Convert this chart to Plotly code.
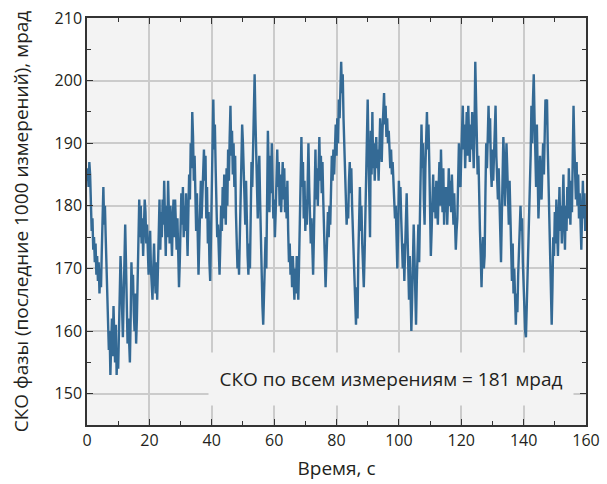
import numpy as np
import plotly.graph_objects as go

# Phase RMS over a sliding window of the last 1000 measurements, mrad
SAMPLE_STEP = 0.25  # seconds between samples
rms_mrad = [
    # 0-5 s
    184, 186, 183, 187, 185, 181, 176, 178, 173, 175, 171, 174, 169, 172, 168, 171, 166, 170, 167, 173,
    # 5-10 s
    179, 183, 177, 180, 175, 171, 166, 162, 157, 160, 153, 158, 162, 156, 164, 159, 155, 161, 153, 157,
    # 10-15 s
    154, 160, 166, 172, 168, 163, 159, 165, 170, 177, 171, 164, 158, 162, 157, 155, 162, 171, 166, 169,
    # 15-20 s
    163, 160, 166, 158, 162, 170, 177, 181, 175, 180, 174, 178, 172, 176, 181, 179, 174, 177, 171, 169,
    # 20-25 s
    173, 176, 170, 167, 165, 170, 174, 169, 166, 171, 165, 170, 176, 181, 173, 179, 175, 181, 177, 184,
    # 25-30 s
    178, 172, 180, 175, 184, 179, 174, 180, 176, 172, 178, 181, 175, 181, 177, 173, 178, 172, 167, 171,
    # 30-35 s
    176, 182, 177, 183, 175, 180, 176, 182, 177, 172, 179, 185, 181, 190, 186, 195, 191, 184, 188, 180,
    # 35-40 s
    176, 182, 171, 169, 174, 180, 184, 178, 182, 186, 189, 184, 188, 178, 183, 174, 179, 171, 168, 175,
    # 40-45 s
    184, 190, 197, 189, 193, 186, 180, 175, 177, 171, 169, 174, 180, 176, 183, 178, 185, 181, 177, 186,
    # 45-50 s
    180, 189, 184, 191, 196, 188, 192, 185, 190, 183, 188, 179, 174, 170, 173, 169, 175, 182, 188, 193,
    # 50-55 s
    190, 186, 181, 177, 184, 176, 172, 169, 174, 170, 178, 187, 183, 191, 197, 201, 194, 188, 182, 178,
    # 55-60 s
    185, 188, 181, 174, 169, 164, 161, 166, 172, 175, 170, 184, 192, 186, 179, 188, 182, 190, 185, 178,
    # 60-65 s
    181, 175, 179, 184, 189, 183, 187, 180, 185, 179, 184, 187, 181, 186, 179, 183, 178, 184, 176, 171,
    # 65-70 s
    174, 169, 172, 167, 172, 168, 165, 170, 166, 172, 168, 165, 171, 180, 186, 191, 183, 187, 178, 184,
    # 70-75 s
    176, 181, 177, 185, 190, 183, 178, 174, 178, 173, 169, 175, 183, 189, 181, 186, 180, 187, 191, 184,
    # 75-80 s
    188, 182, 187, 181, 176, 172, 167, 171, 174, 179, 175, 180, 177, 183, 188, 184, 189, 185, 188, 193,
    # 80-85 s
    188, 194, 190, 197, 194, 199, 203, 198, 201, 194, 190, 185, 181, 177, 180, 178, 184, 187, 182, 186,
    # 85-90 s
    180, 176, 173, 168, 165, 161, 167, 162, 172, 178, 183, 176, 180, 174, 169, 167, 172, 178, 184, 190,
    # 90-95 s
    197, 189, 181, 175, 192, 185, 195, 186, 190, 184, 188, 191, 186, 189, 184, 188, 194, 190, 187, 192,
    # 95-100 s
    195, 198, 193, 196, 191, 194, 190, 192, 189, 186, 189, 185, 187, 183, 181, 178, 180, 174, 170, 176,
    # 100-105 s
    184, 180, 183, 178, 175, 170, 174, 168, 173, 179, 182, 176, 170, 165, 172, 166, 160, 165, 171, 177,
    # 105-110 s
    172, 166, 161, 168, 174, 177, 171, 180, 187, 193, 186, 190, 181, 177, 186, 192, 195, 189, 193, 187,
    # 110-115 s
    180, 172, 176, 182, 185, 179, 183, 178, 184, 181, 177, 183, 187, 180, 189, 183, 179, 186, 177, 183,
    # 115-120 s
    179, 183, 177, 181, 186, 180, 184, 179, 185, 181, 177, 182, 178, 173, 176, 178, 184, 190, 185, 183,
    # 120-125 s
    188, 192, 196, 189, 193, 186, 190, 195, 188, 196, 191, 187, 193, 189, 195, 188, 186, 192, 203, 197,
    # 125-130 s
    191, 185, 188, 180, 176, 172, 167, 172, 175, 170, 172, 182, 190, 186, 192, 196, 190, 194, 186, 183,
    # 130-135 s
    189, 184, 188, 194, 196, 188, 185, 181, 186, 179, 174, 171, 178, 184, 191, 187, 180, 185, 190, 186,
    # 135-140 s
    181, 177, 184, 179, 172, 168, 174, 166, 170, 164, 161, 166, 163, 169, 172, 175, 180, 176, 178, 171,
    # 140-145 s
    166, 163, 160, 159, 164, 169, 172, 177, 180, 188, 196, 190, 197, 201, 194, 189, 183, 193, 186, 178,
    # 145-150 s
    182, 188, 184, 181, 186, 190, 185, 192, 197, 193, 197, 189, 184, 180, 173, 167, 161, 167, 175, 172,
    # 150-155 s
    179, 174, 181, 176, 172, 178, 183, 176, 180, 174, 179, 185, 178, 173, 180, 176, 183, 178, 186, 181,
    # 155-160 s
    177, 184, 179, 188, 196, 190, 184, 181, 187, 180, 185, 178, 182, 176, 173, 179, 184, 178, 182, 176,
    180,
]
time_s = np.arange(len(rms_mrad)) * SAMPLE_STEP

x_ticks = [0, 20, 40, 60, 80, 100, 120, 140, 160]
y_ticks = [150, 160, 170, 180, 190, 200, 210]

summary_text = "СКО по всем измерениям = 181 мрад"
x_title = "Время, с"
y_title = "СКО фазы (последние 1000 измерений), мрад"

LINE_COLOR = "#346a95"
PLOT_BG = "#f3f3f3"
GRID_COLOR = "#cbcbcb"
TEXT_COLOR = "#231f20"
FONT = "Open Sans"

fig = go.Figure(
    go.Scatter(
        x=time_s,
        y=rms_mrad,
        mode="lines",
        line=dict(color=LINE_COLOR, width=2.4),
        hoverinfo="skip",
    )
)

axis_common = dict(
    automargin=False,
    showline=True,
    linecolor="#333333",
    linewidth=1.5,
    mirror="ticks",
    ticks="inside",
    ticklen=6,
    tickwidth=1.2,
    tickcolor="#333333",
    showgrid=True,
    gridcolor=GRID_COLOR,
    gridwidth=1.5,
    zeroline=False,
    tickfont=dict(family=FONT, size=16, color=TEXT_COLOR),
)

fig.update_xaxes(
    **axis_common,
    range=[0, 160],
    tickvals=x_ticks,
    minor=dict(dtick=10, ticks="inside", ticklen=4, tickcolor="#333333", showgrid=False),
    title=dict(text=x_title, font=dict(family=FONT, size=19, color=TEXT_COLOR), standoff=12),
)
fig.update_yaxes(
    **axis_common,
    range=[145, 210],
    tickvals=y_ticks,
    minor=dict(dtick=5, ticks="inside", ticklen=4, tickcolor="#333333", showgrid=False),
    title=dict(text=y_title, font=dict(family=FONT, size=19, color=TEXT_COLOR), standoff=21),
)

fig.add_annotation(
    x=97.5,
    y=152.3,
    xref="x",
    yref="y",
    text=summary_text,
    showarrow=False,
    font=dict(family=FONT, size=19, color=TEXT_COLOR),
    bgcolor=PLOT_BG,
    width=362,
    height=50,
    align="center",
)

fig.update_layout(
    width=607,
    height=484,
    margin=dict(l=87, r=21, t=18, b=59),
    paper_bgcolor="white",
    plot_bgcolor=PLOT_BG,
    showlegend=False,
)

fig.write_html("out.html")
